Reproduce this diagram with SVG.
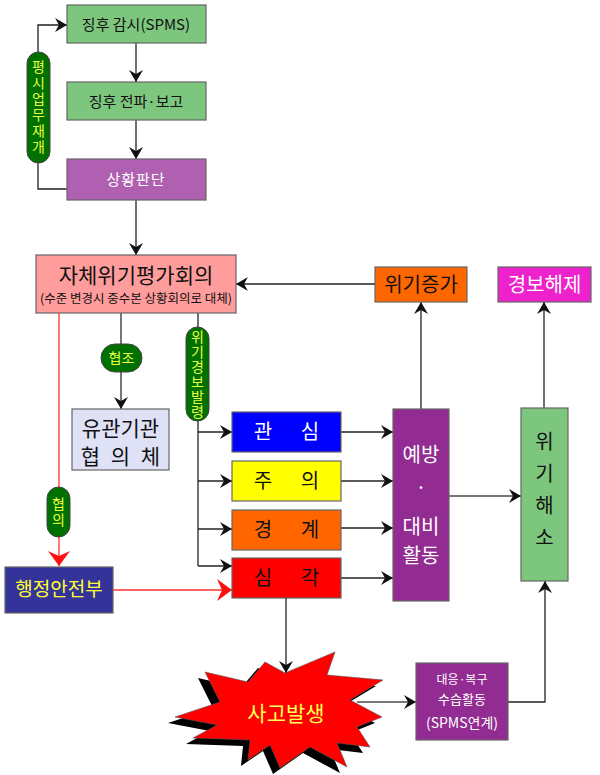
<svg xmlns="http://www.w3.org/2000/svg" width="600" height="775" viewBox="0 0 600 775">
<defs>
<style>
text{font-family:"Noto Sans CJK KR","Noto Sans",sans-serif;text-anchor:middle;}
.box{stroke:#666;stroke-width:1.2;}
.ln{fill:none;stroke:#222;stroke-width:1.3;}
.gl{fill:none;stroke:#777;stroke-width:2;}
.rl{fill:none;stroke:#ff3030;stroke-width:1.3;}
.pill{fill:#007000;stroke:#444;stroke-width:1;}
.pt{fill:#e8ff40;font-size:14px;}
.vt{writing-mode:vertical-rl;text-orientation:upright;}
</style>
<marker id="a" markerUnits="userSpaceOnUse" markerWidth="13" markerHeight="14" refX="12" refY="7" orient="auto">
<path d="M0,0 L12,7 L0,14 L4,7 z" fill="#111"/>
</marker>
<marker id="r" markerUnits="userSpaceOnUse" markerWidth="16" markerHeight="22" refX="15" refY="11" orient="auto">
<path d="M0,0 L15,11 L0,22 L5,11 z" fill="#ff1010"/>
</marker>
</defs>
<rect width="600" height="775" fill="#fff"/>

<g id="connectors">
<path class="ln" d="M136,43 V82" marker-end="url(#a)"/>
<path class="ln" d="M136,120 V159" marker-end="url(#a)"/>
<path class="ln" d="M136,200 V255" marker-end="url(#a)"/>
<path class="ln" d="M67,189 H38 V25 H67" marker-end="url(#a)"/>
<path class="ln" d="M375,284 H236" marker-end="url(#a)"/>
<path class="gl" d="M121,313 V409" marker-end="url(#a)"/>
<path class="rl" d="M59,313 V566" marker-end="url(#r)"/>
<path class="rl" d="M113,590 H232" marker-end="url(#r)"/>
<path class="ln" d="M198,313 V566"/>
<path class="ln" d="M198,432 H232" marker-end="url(#a)"/>
<path class="ln" d="M198,481 H232" marker-end="url(#a)"/>
<path class="ln" d="M198,529 H232" marker-end="url(#a)"/>
<path class="ln" d="M198,566 H232" marker-end="url(#a)"/>
<path class="ln" d="M341,432 H393" marker-end="url(#a)"/>
<path class="ln" d="M341,481 H393" marker-end="url(#a)"/>
<path class="ln" d="M341,528 H393" marker-end="url(#a)"/>
<path class="ln" d="M341,578 H393" marker-end="url(#a)"/>
<path class="ln" d="M421,409 V302" marker-end="url(#a)"/>
<path class="gl" d="M449,496 H521" marker-end="url(#a)"/>
<path class="ln" d="M544,408 V302" marker-end="url(#a)"/>
<path class="gl" d="M357,702 H416" marker-end="url(#a)"/>
<path class="ln" d="M508,702 H545 V581" marker-end="url(#a)"/>
</g>

<g id="n-monitor">
<rect class="box" x="67" y="5" width="139" height="38" fill="#7dc67d"/>
<text x="136" y="30" font-size="15" fill="#111">징후 감시(SPMS)</text>
</g>
<g id="n-report">
<rect class="box" x="67" y="82" width="139" height="38" fill="#7dc67d"/>
<text x="136" y="107" font-size="15" fill="#111">징후 전파·보고</text>
</g>
<g id="n-judge">
<rect class="box" x="67" y="159" width="139" height="41" fill="#b060b0"/>
<text x="136" y="185" font-size="15" fill="#fff" letter-spacing="1">상황판단</text>
</g>
<g id="p-resume">
<rect class="pill" x="27" y="52" width="23" height="111" rx="11.5"/>
<text class="pt vt" x="38.5" y="108" letter-spacing="2">평시업무재개</text>
</g>

<g id="n-selfeval">
<rect class="box" x="36" y="255" width="200" height="58" fill="#ff9c9c"/>
<text x="136" y="283" font-size="21" fill="#111">자체위기평가회의</text>
<text x="136" y="303" font-size="12.5" fill="#111">(수준 변경시 중수본 상황회의로 대체)</text>
</g>

<g id="p-coop">
<rect class="pill" x="101" y="344" width="41" height="28" rx="14"/>
<text class="pt" x="121.5" y="363">협조</text>
</g>

<g id="n-council">
<rect class="box" x="72" y="409" width="97" height="61" fill="#dfe1f7"/>
<text x="120.5" y="436" font-size="21" fill="#111">유관기관</text>
<text x="120.5" y="464" font-size="21" fill="#111" word-spacing="6">협 의 체</text>
</g>

<g id="p-consult">
<rect class="pill" x="47" y="487" width="23" height="50" rx="11.5"/>
<text class="pt vt" x="58.5" y="513" letter-spacing="2">협의</text>
</g>

<g id="n-mois">
<rect class="box" x="5" y="567" width="108" height="46" fill="#333399"/>
<text x="59" y="596" font-size="19" fill="#ffff33">행정안전부</text>
</g>

<g id="p-alert">
<rect class="pill" x="186" y="327" width="23" height="94" rx="11.5"/>
<text class="pt vt" x="197.5" y="375" letter-spacing="1">위기경보발령</text>
</g>

<g id="n-l1">
<rect class="box" x="232" y="412" width="109" height="40" fill="#0000ff"/>
<text x="286.5" y="439" font-size="20" fill="#fff" word-spacing="24">관 심</text>
</g>
<g id="n-l2">
<rect class="box" x="232" y="461" width="109" height="40" fill="#ffff00"/>
<text x="286.5" y="488" font-size="20" fill="#111" word-spacing="24">주 의</text>
</g>
<g id="n-l3">
<rect class="box" x="232" y="510" width="109" height="40" fill="#ff6600"/>
<text x="286.5" y="537" font-size="20" fill="#111" word-spacing="24">경 계</text>
</g>
<g id="n-l4">
<rect class="box" x="232" y="558" width="109" height="40" fill="#ff0000"/>
<text x="286.5" y="585" font-size="20" fill="#111" word-spacing="24">심 각</text>
</g>

<g id="n-prevent">
<rect class="box" x="393" y="409" width="56" height="192" fill="#922b92"/>
<text x="421" y="462" font-size="20" fill="#fff">예방</text>
<text x="421" y="495" font-size="20" fill="#fff">·</text>
<text x="421" y="534" font-size="20" fill="#fff">대비</text>
<text x="421" y="563" font-size="20" fill="#fff">활동</text>
</g>

<g id="n-rise">
<rect class="box" x="375" y="267" width="92" height="35" fill="#ff6600"/>
<text x="421" y="292" font-size="20" fill="#111">위기증가</text>
</g>
<g id="n-release">
<rect class="box" x="498" y="267" width="93" height="35" fill="#ee22cc"/>
<text x="544.5" y="292" font-size="20" fill="#fff">경보해제</text>
</g>

<g id="n-resolve">
<rect class="box" x="521" y="408" width="47" height="173" fill="#7dc67d"/>
<text class="vt" x="544.5" y="495" font-size="20" fill="#111" letter-spacing="12">위기해소</text>
</g>

<g id="n-accident">
<polygon transform="translate(-7,6)" fill="#000" points="175,717 220,702 205,672 248,682 265,662 285,673 335,652 327,675 383,680 350,700 382,717 357,727 370,747 337,743 347,767 310,747 280,768 270,745 248,760 250,740 193,738 217,725"/>
<polygon fill="#ff0000" stroke="#555" stroke-width="0.6" points="175,717 220,702 205,672 248,682 265,662 285,673 335,652 327,675 383,680 350,700 382,717 357,727 370,747 337,743 347,767 310,747 280,768 270,745 248,760 250,740 193,738 217,725"/>
<text x="286" y="721" font-size="21" fill="#ffff55">사고발생</text>
</g>

<g id="connector-accident">
<path class="ln" d="M286,598 V673" marker-end="url(#a)"/>
</g>

<g id="n-response">
<rect class="box" x="416" y="663" width="92" height="77" fill="#922b92"/>
<text x="462" y="684" font-size="12" fill="#fff">대응·복구</text>
<text x="462" y="704" font-size="13" fill="#fff">수습활동</text>
<text x="462" y="728" font-size="14" fill="#fff">(SPMS연계)</text>
</g>
</svg>
